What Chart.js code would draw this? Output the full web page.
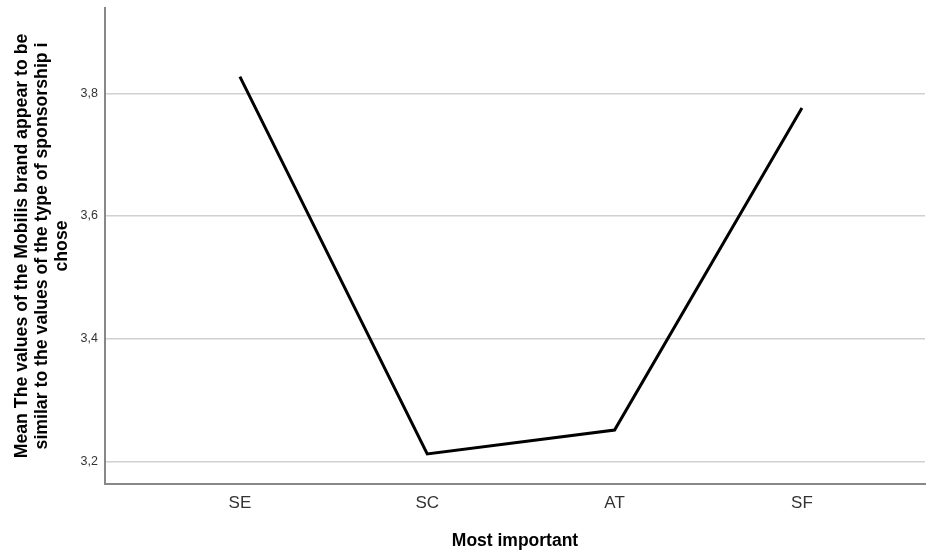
<!DOCTYPE html>
<html>
<head>
<meta charset="utf-8">
<script src="https://cdn.jsdelivr.net/npm/chart.js@4/dist/chart.umd.min.js"></script>
<style>
html,body{margin:0;padding:0;background:#fff;}
#wrap{width:927px;height:552px;}
</style>
</head>
<body>
<div id="wrap"><canvas id="c" width="927" height="552"></canvas></div>
<script>
const categories = ["SE", "SC", "AT", "SF"];
const meanValues = [3.827, 3.212, 3.251, 3.776];
const yTickValues = [3.2, 3.4, 3.6, 3.8];
const yTitleLines = [
  "Mean The values of the Mobilis brand appear to be",
  "similar to the values of the type of sponsorship i",
  "chose"
];
const xTitle = "Most important";

const points = categories.map((c, i) => ({x: i, y: meanValues[i]}));

new Chart(document.getElementById('c'), {
  type: 'line',
  data: {
    datasets: [{
      data: points,
      borderColor: '#000',
      borderWidth: 3,
      pointRadius: 0,
      tension: 0,
      fill: false
    }]
  },
  options: {
    responsive: false,
    animation: false,
    layout: {padding: {left: 8, right: 2, top: 8, bottom: 0}},
    plugins: {legend: {display: false}, tooltip: {enabled: false}},
    scales: {
      x: {
        type: 'linear',
        min: -0.72,
        max: 3.657,
        afterBuildTicks: s => { s.ticks = categories.map((c, i) => ({value: i})); },
        afterFit: s => { s.height = 68; s.paddingLeft = 0; s.paddingRight = 0; },
        grid: {display: false, drawTicks: false},
        border: {display: true, color: '#888', width: 2},
        ticks: {
          callback: v => categories[v],
          color: '#333',
          font: {family: 'Liberation Sans, Arial', size: 17},
          padding: 9,
          maxRotation: 0,
          autoSkip: false
        },
        title: {
          display: true,
          text: xTitle,
          color: '#000',
          font: {family: 'Liberation Sans, Arial', size: 17.5, weight: 'bold'},
          padding: {top: 5, bottom: 0}
        }
      },
      y: {
        min: 3.163,
        max: 3.939,
        afterBuildTicks: s => { s.ticks = yTickValues.map(v => ({value: v})); },
        afterFit: s => { s.width = 97; s.paddingTop = 0; s.paddingBottom = 0; },
        grid: {color: '#d0d0d0', lineWidth: 1.5, drawTicks: false},
        border: {display: true, color: '#888', width: 2},
        ticks: {
          callback: v => v.toFixed(1).replace('.', ','),
          color: '#333',
          font: {family: 'Liberation Sans, Arial', size: 12.5},
          padding: 7
        },
        title: {
          display: true,
          text: yTitleLines,
          color: '#000',
          font: {family: 'Liberation Sans, Arial', size: 17.7, weight: 'bold', lineHeight: 1.13},
          padding: {top: 4, bottom: 4}
        }
      }
    }
  }
});
</script>
</body>
</html>
